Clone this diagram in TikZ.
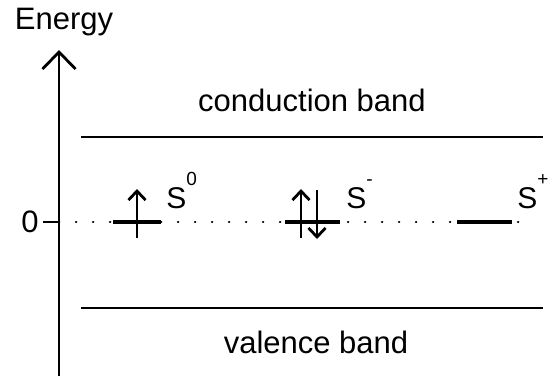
\documentclass[tikz,border=0pt]{standalone}
\usepackage{fontspec}
\setmainfont{Liberation Sans}
\usetikzlibrary{arrows.meta}

\newcommand{\sfsup}[1]{\raisebox{1.4ex}{\fontsize{9.5}{10}\selectfont #1}}

\begin{document}
\begin{tikzpicture}[x=0.5pt, y=-0.5pt,
    axis/.style={line width=1.4pt, -{Straight Barb[length=8.5pt, width=16.5pt, line width=1.4pt]}},
    band/.style={line width=1.4pt},
    lvl/.style={line width=1.6pt},
    spin/.style={line width=1.4pt, -{Straight Barb[length=4.5pt, width=8.5pt, line width=1.4pt]}},
    fermi/.style={line width=1.3pt, line cap=round, dash pattern=on 0.1pt off 8.4pt},
    txt/.style={font=\fontsize{15.5}{18}\selectfont, inner sep=0pt},
    stxt/.style={font=\fontsize{15}{17}\selectfont, inner sep=0pt, anchor=base west},
]
\useasboundingbox (0,0) rectangle (553,376);

% energy axis
\coordinate (base) at (59,376);
\coordinate (top) at (59,50);
\draw[axis] (base) -- (top);
\node[txt] (energy) at (64,22) {Energy};

% zero of energy
\coordinate (origin) at (59,222);
\coordinate (tick) at (43,222);
\coordinate (fend) at (528,222);
\draw[band] (tick) -- (origin);
\node[txt, anchor=east, inner sep=2pt] (zero) at (tick) {0};
\draw[fermi] (origin) -- (fend);

% bands
\coordinate (cb-l) at (81,137);
\coordinate (cb-r) at (543,137);
\coordinate (vb-l) at (81,308);
\coordinate (vb-r) at (543,308);
\draw[band] (cb-l) -- (cb-r);
\draw[band] (vb-l) -- (vb-r);
\node[txt] (cband) at (312,100) {conduction band};
\node[txt] (vband) at (316,342) {valence band};

% S0: one electron
\coordinate (s0-l) at (113,222);
\coordinate (s0-r) at (161,222);
\draw[lvl] (s0-l) -- (s0-r);
\coordinate (s0-a) at (137,238);
\coordinate (s0-b) at (137,189);
\draw[spin] (s0-a) -- (s0-b);
\node[stxt] (s0) at (166,208) {S\sfsup{0}};

% S-: two electrons
\coordinate (sm-l) at (285,222);
\coordinate (sm-r) at (340,222);
\draw[lvl] (sm-l) -- (sm-r);
\coordinate (sm-a) at (301,238);
\coordinate (sm-b) at (301,189);
\coordinate (sm-c) at (317,190);
\coordinate (sm-d) at (317,239);
\draw[spin] (sm-a) -- (sm-b);
\draw[spin] (sm-c) -- (sm-d);
\node[stxt] (sm) at (346,208) {S\sfsup{-}};

% S+: empty
\coordinate (sp-l) at (457,222);
\coordinate (sp-r) at (512,222);
\draw[lvl] (sp-l) -- (sp-r);
\node[stxt] (sp) at (517,208) {S\sfsup{+}};

\end{tikzpicture}
\end{document}
